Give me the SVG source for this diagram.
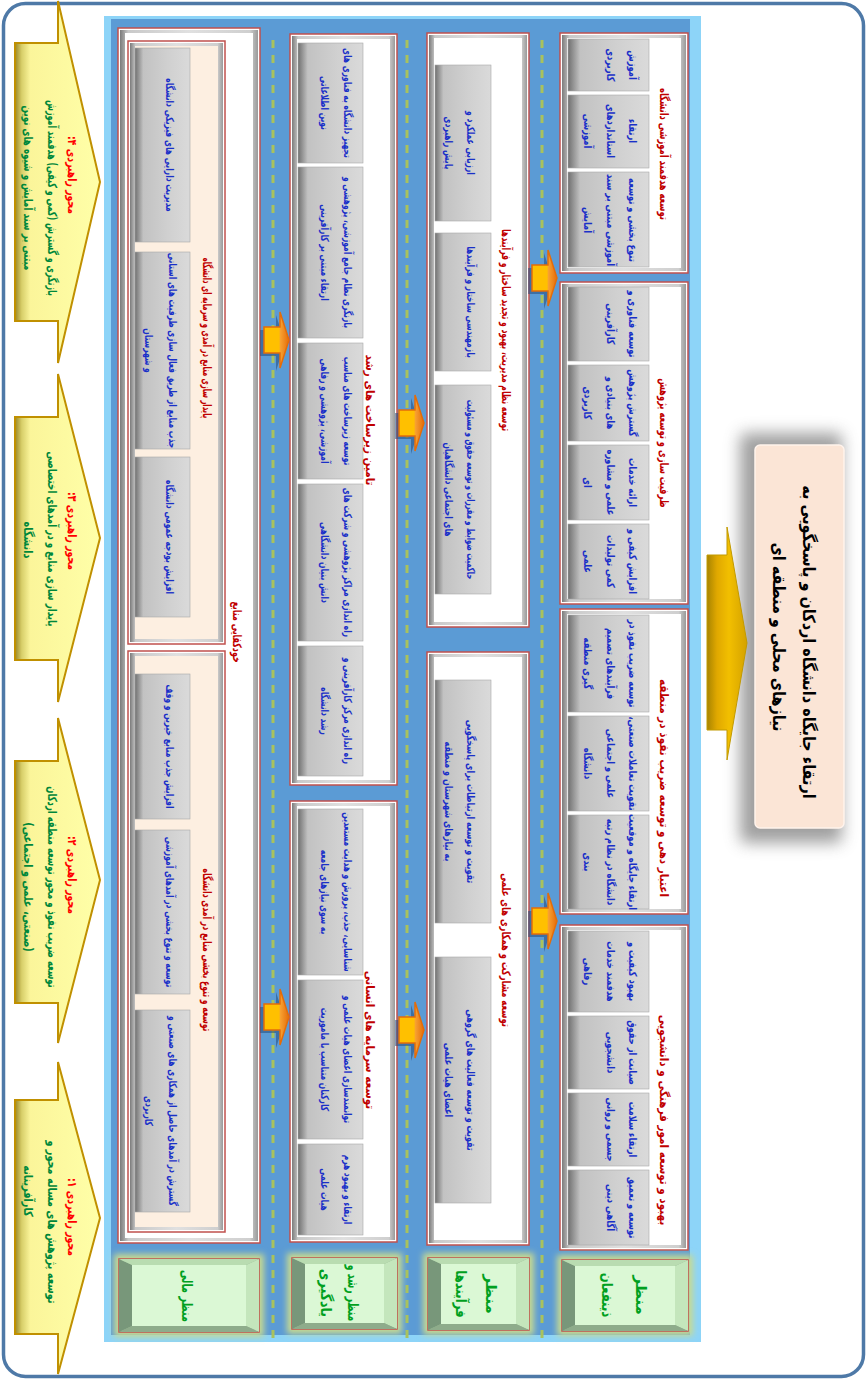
<svg xmlns="http://www.w3.org/2000/svg" width="868" height="1381" viewBox="0 0 868 1381">
<defs>
<style>
text{font-family:"DejaVu Sans",sans-serif;font-weight:bold;direction:rtl;text-anchor:middle}
.ti{font-size:17px;fill:#000}
.hd{font-size:12px;fill:#c00000}
.it{font-size:11px;fill:#1a30c8}
.lb{font-size:15px;fill:#00a020}
.ar{font-size:12.5px;fill:#ff0000}
.ag{font-size:12.5px;fill:#00873a}
.bx{fill:#fff;stroke:#c0504d;stroke-width:1.5}
.fr{fill:url(#frG)}
.wi{fill:#fff}
.pi{fill:#fdefe1}
.itm{fill:url(#itG);stroke:#a8a8a8;stroke-width:0.6}
.gl{fill:#c8da90;filter:url(#bl3)}
.lo{fill:#98b894;stroke:#c0504d;stroke-width:1.5}
.bl{fill:#78977a}.br{fill:#c4e6bc}.bt{fill:#b9dcb1}.bb{fill:#8eac8b}.lc{fill:#dbf8d5}
.ya{fill:url(#yaG);stroke:#c09000;stroke-width:2}
.dl{stroke:#a9c25d;stroke-width:3;stroke-dasharray:8 7}
</style>
<linearGradient id="itG" x1="0" y1="0" x2="1" y2="0"><stop offset="0" stop-color="#707070"/><stop offset="0.15" stop-color="#c2c2c2"/><stop offset="0.6" stop-color="#d0d0d0"/><stop offset="1" stop-color="#dadada"/></linearGradient>
<linearGradient id="frG" x1="0" y1="0" x2="1" y2="0"><stop offset="0" stop-color="#7b7b7b"/><stop offset="0.06" stop-color="#c9c9c9"/><stop offset="0.5" stop-color="#e0e0e0"/><stop offset="0.94" stop-color="#cfcfcf"/><stop offset="1" stop-color="#9a9a9a"/></linearGradient>
<linearGradient id="yaG" x1="0" y1="0" x2="1" y2="0"><stop offset="0" stop-color="#9a8626"/><stop offset="0.08" stop-color="#d8cf6a"/><stop offset="0.18" stop-color="#fbf59a"/><stop offset="1" stop-color="#ffffa8"/></linearGradient>
<linearGradient id="goG" x1="0" y1="0" x2="1" y2="0"><stop offset="0" stop-color="#a88400"/><stop offset="0.25" stop-color="#e0a800"/><stop offset="0.55" stop-color="#f2bf00"/><stop offset="1" stop-color="#d4a200"/></linearGradient>
<linearGradient id="oaG" x1="0" y1="0" x2="1" y2="0"><stop offset="0" stop-color="#ffc000"/><stop offset="0.6" stop-color="#ffc000"/><stop offset="0.66" stop-color="#f7a030"/><stop offset="1" stop-color="#e46c0a"/></linearGradient>
<filter id="bl3" x="-20%" y="-20%" width="140%" height="140%"><feGaussianBlur stdDeviation="3"/></filter>
<filter id="bl8" x="-40%" y="-10%" width="180%" height="120%"><feGaussianBlur stdDeviation="8"/></filter>
<g id="oa"><path d="M0,-13H16V-28L25,0L16,28V13H0Z" fill="#244a7c" opacity="0.55" transform="translate(-4,3)"/><path d="M0,-13H16V-28L25,0L16,28V13H0Z" fill="url(#oaG)" stroke="#e46c0a" stroke-width="1.5"/></g>
</defs>

<rect x="3.5" y="3.5" width="860" height="1373" rx="22" fill="#fff" stroke="#4e79a7" stroke-width="3.5"/>
<rect x="104" y="16" width="597" height="1326" fill="#8dd4f8"/>
<rect x="111" y="19" width="579" height="1316" fill="#5b9bd5"/>

<g id="title">
<rect x="740" y="433" width="102" height="410" rx="6" fill="#808080" opacity="0.75" filter="url(#bl8)"/>
<rect x="755" y="445" width="89" height="383" rx="5" fill="#fbe5d6" stroke="#fff3ec" stroke-width="1.5"/>
<text class="ti" transform="translate(803,642) rotate(90) scale(0.85,1)">ارتقاء جایگاه دانشگاه اردکان و پاسخگویی به</text>
<text class="ti" transform="translate(773,637) rotate(90) scale(0.85,1)">نیازهای محلی و منطقه ای</text>
</g>

<g id="boxA">
<rect class="bx" x="560" y="33" width="128" height="240"/>
<rect class="fr" x="562" y="35" width="124" height="236"/>
<rect class="wi" x="567" y="38" width="114" height="230"/>
<rect class="itm" x="568" y="39" width="81" height="52"/>
<rect class="itm" x="568" y="95" width="81" height="73"/>
<rect class="itm" x="568" y="172" width="81" height="95"/>
<text class="hd" transform="translate(660,154) rotate(90) scale(0.7,1)">توسعه هدفمند آموزشی دانشگاه</text>
<text class="it" transform="translate(629,65) rotate(90) scale(0.76,1)">آموزش</text>
<text class="it" transform="translate(607,65) rotate(90) scale(0.76,1)">کاربردی</text>
<text class="it" transform="translate(629,131) rotate(90) scale(0.76,1)">ارتقاء</text>
<text class="it" transform="translate(607,131) rotate(90) scale(0.76,1)">استانداردهای</text>
<text class="it" transform="translate(584,131) rotate(90) scale(0.76,1)">آموزشی</text>
<text class="it" transform="translate(629,220) rotate(90) scale(0.76,1)">تنوع بخشی و توسعه</text>
<text class="it" transform="translate(607,220) rotate(90) scale(0.76,1)">آموزشی مبتنی بر سند</text>
<text class="it" transform="translate(584,220) rotate(90) scale(0.76,1)">آمایش</text>
</g>

<g id="boxB">
<rect class="bx" x="560" y="282" width="128" height="322"/>
<rect class="fr" x="562" y="284" width="124" height="318"/>
<rect class="wi" x="567" y="287" width="114" height="312"/>
<rect class="itm" x="568" y="287" width="81" height="74"/>
<rect class="itm" x="568" y="365" width="81" height="76"/>
<rect class="itm" x="568" y="445" width="81" height="75"/>
<rect class="itm" x="568" y="524" width="81" height="75"/>
<text class="hd" transform="translate(660,443) rotate(90) scale(0.7,1)">ظرفیت سازی و توسعه پژوهش</text>
<text class="it" transform="translate(629,324) rotate(90) scale(0.76,1)">توسعه فناوری و</text>
<text class="it" transform="translate(607,324) rotate(90) scale(0.76,1)">کارآفرینی</text>
<text class="it" transform="translate(629,403) rotate(90) scale(0.76,1)">گسترش پژوهش</text>
<text class="it" transform="translate(607,403) rotate(90) scale(0.76,1)">های بنیادی و</text>
<text class="it" transform="translate(584,403) rotate(90) scale(0.76,1)">کاربردی</text>
<text class="it" transform="translate(629,482.5) rotate(90) scale(0.76,1)">ارائه خدمات</text>
<text class="it" transform="translate(607,482.5) rotate(90) scale(0.76,1)">علمی و مشاوره</text>
<text class="it" transform="translate(584,482.5) rotate(90) scale(0.76,1)">ای</text>
<text class="it" transform="translate(629,561.5) rotate(90) scale(0.76,1)">افزایش کیفی و</text>
<text class="it" transform="translate(607,561.5) rotate(90) scale(0.76,1)">کمی تولیدات</text>
<text class="it" transform="translate(584,561.5) rotate(90) scale(0.76,1)">علمی</text>
</g>

<g id="boxC">
<rect class="bx" x="560" y="609" width="128" height="305"/>
<rect class="fr" x="562" y="611" width="124" height="301"/>
<rect class="wi" x="567" y="614" width="114" height="295"/>
<rect class="itm" x="568" y="615" width="81" height="97"/>
<rect class="itm" x="568" y="716" width="81" height="95"/>
<rect class="itm" x="568" y="815" width="81" height="94"/>
<text class="hd" transform="translate(660,788) rotate(90) scale(0.87,1)">اعتبار دهی و توسعه ضریب نفوذ در منطقه</text>
<text class="it" transform="translate(629,663.5) rotate(90) scale(0.76,1)">توسعه ضریب نفوذ در</text>
<text class="it" transform="translate(607,663.5) rotate(90) scale(0.76,1)">فرآیندهای تصمیم</text>
<text class="it" transform="translate(584,663.5) rotate(90) scale(0.76,1)">گیری منطقه</text>
<text class="it" transform="translate(629,763.5) rotate(90) scale(0.76,1)">تقویت تعاملات صنعتی،</text>
<text class="it" transform="translate(607,763.5) rotate(90) scale(0.76,1)">علمی و اجتماعی</text>
<text class="it" transform="translate(584,763.5) rotate(90) scale(0.76,1)">دانشگاه</text>
<text class="it" transform="translate(629,862) rotate(90) scale(0.76,1)">ارتقاء جایگاه و موقعیت</text>
<text class="it" transform="translate(607,862) rotate(90) scale(0.76,1)">دانشگاه در نظام رتبه</text>
<text class="it" transform="translate(584,862) rotate(90) scale(0.76,1)">بندی</text>
</g>

<g id="boxD">
<rect class="bx" x="560" y="925" width="128" height="325"/>
<rect class="fr" x="562" y="927" width="124" height="321"/>
<rect class="wi" x="567" y="930" width="114" height="315"/>
<rect class="itm" x="568" y="931" width="81" height="81"/>
<rect class="itm" x="568" y="1016" width="81" height="73"/>
<rect class="itm" x="568" y="1093" width="81" height="73"/>
<rect class="itm" x="568" y="1170" width="81" height="75"/>
<text class="hd" transform="translate(660,1120) rotate(90) scale(0.87,1)">بهبود و توسعه امور فرهنگی و دانشجویی</text>
<text class="it" transform="translate(629,971.5) rotate(90) scale(0.76,1)">بهبود کیفیت و</text>
<text class="it" transform="translate(607,971.5) rotate(90) scale(0.76,1)">هدفمند خدمات</text>
<text class="it" transform="translate(584,971.5) rotate(90) scale(0.76,1)">رفاهی</text>
<text class="it" transform="translate(629,1052.5) rotate(90) scale(0.76,1)">صیانت از حقوق</text>
<text class="it" transform="translate(607,1052.5) rotate(90) scale(0.76,1)">دانشجویی</text>
<text class="it" transform="translate(629,1129.5) rotate(90) scale(0.76,1)">ارتقاء سلامت</text>
<text class="it" transform="translate(607,1129.5) rotate(90) scale(0.76,1)">جسمی و روانی</text>
<text class="it" transform="translate(629,1207.5) rotate(90) scale(0.76,1)">توسعه و تعمیق</text>
<text class="it" transform="translate(607,1207.5) rotate(90) scale(0.76,1)">آگاهی دینی</text>
</g>

<g id="boxE">
<rect class="bx" x="427" y="33" width="102" height="594"/>
<rect class="fr" x="429" y="35" width="98" height="590"/>
<rect class="wi" x="434" y="38" width="88" height="584"/>
<rect class="itm" x="435" y="65" width="56" height="156"/>
<rect class="itm" x="435" y="233" width="56" height="138"/>
<rect class="itm" x="435" y="385" width="56" height="209"/>
<text class="hd" transform="translate(502,330) rotate(90) scale(0.64,1)">توسعه نظام مدیریت، بهبود و تجدید ساختار و فرآیندها</text>
<text class="it" transform="translate(467,143) rotate(90) scale(0.69,1)">ارزیابی عملکرد و</text>
<text class="it" transform="translate(445,143) rotate(90) scale(0.69,1)">پایش راهبردی</text>
<text class="it" transform="translate(467,302) rotate(90) scale(0.69,1)">بازمهندسی ساختار و فرآیندها</text>
<text class="it" transform="translate(467,489.5) rotate(90) scale(0.62,1)">حاکمیت ضوابط و مقررات و توسعه حقوق و مسئولیت</text>
<text class="it" transform="translate(445,489.5) rotate(90) scale(0.69,1)">های اجتماعی دانشگاهیان</text>
</g>

<g id="boxF">
<rect class="bx" x="427" y="652" width="102" height="593"/>
<rect class="fr" x="429" y="654" width="98" height="589"/>
<rect class="wi" x="434" y="657" width="88" height="583"/>
<rect class="itm" x="435" y="680" width="56" height="243"/>
<rect class="itm" x="435" y="957" width="56" height="246"/>
<text class="hd" transform="translate(502,950) rotate(90) scale(0.7,1)">توسعه مشارکت و همکاری های علمی</text>
<text class="it" transform="translate(467,801.5) rotate(90) scale(0.73,1)">تقویت و توسعه ارتباطات برای پاسخگویی</text>
<text class="it" transform="translate(445,801.5) rotate(90) scale(0.73,1)">به نیازهای شهرستان و منطقه</text>
<text class="it" transform="translate(467,1080) rotate(90) scale(0.73,1)">تقویت و توسعه فعالیت های گروهی</text>
<text class="it" transform="translate(445,1080) rotate(90) scale(0.73,1)">اعضای هیات علمی</text>
</g>

<g id="boxG">
<rect class="bx" x="290" y="34" width="107" height="751"/>
<rect class="fr" x="292" y="36" width="103" height="747"/>
<rect class="wi" x="297" y="39" width="93" height="741"/>
<rect class="itm" x="298" y="43" width="65" height="120"/>
<rect class="itm" x="298" y="167" width="65" height="171"/>
<rect class="itm" x="298" y="343" width="65" height="136"/>
<rect class="itm" x="298" y="484" width="65" height="157"/>
<rect class="itm" x="298" y="646" width="65" height="130"/>
<text class="hd" transform="translate(366,420) rotate(90) scale(0.87,1)">تامین زیرساخت های رشد</text>
<text class="it" transform="translate(344,103) rotate(90) scale(0.69,1)">تجهیز دانشگاه به فناوری های</text>
<text class="it" transform="translate(321,103) rotate(90) scale(0.69,1)">نوین اطلاعاتی</text>
<text class="it" transform="translate(344,252.5) rotate(90) scale(0.69,1)">بازنگری نظام جامع آموزشی، پژوهشی و</text>
<text class="it" transform="translate(321,252.5) rotate(90) scale(0.69,1)">ارتقاء مبتنی بر کارآفرینی</text>
<text class="it" transform="translate(344,411) rotate(90) scale(0.69,1)">توسعه زیرساخت های مناسب</text>
<text class="it" transform="translate(321,411) rotate(90) scale(0.69,1)">آموزشی، پژوهشی و رفاهی</text>
<text class="it" transform="translate(344,562.5) rotate(90) scale(0.69,1)">راه اندازی مراکز پژوهشی و شرکت های</text>
<text class="it" transform="translate(321,562.5) rotate(90) scale(0.69,1)">دانش بنیان دانشگاهی</text>
<text class="it" transform="translate(344,711) rotate(90) scale(0.69,1)">راه اندازی مرکز کارآفرینی و</text>
<text class="it" transform="translate(321,711) rotate(90) scale(0.69,1)">رشد دانشگاه</text>
</g>

<g id="boxH">
<rect class="bx" x="290" y="801" width="107" height="441"/>
<rect class="fr" x="292" y="803" width="103" height="437"/>
<rect class="wi" x="297" y="806" width="93" height="431"/>
<rect class="itm" x="298" y="809" width="65" height="166"/>
<rect class="itm" x="298" y="980" width="65" height="159"/>
<rect class="itm" x="298" y="1144" width="65" height="91"/>
<text class="hd" transform="translate(366,1040) rotate(90) scale(0.87,1)">توسعه سرمایه های انسانی</text>
<text class="it" transform="translate(344,892) rotate(90) scale(0.69,1)">شناسایی، جذب، پرورش و هدایت مستعدین</text>
<text class="it" transform="translate(321,892) rotate(90) scale(0.69,1)">به سوی نیازهای جامعه</text>
<text class="it" transform="translate(344,1059.5) rotate(90) scale(0.69,1)">توانمندسازی اعضای هیات علمی و</text>
<text class="it" transform="translate(321,1059.5) rotate(90) scale(0.69,1)">کارکنان متناسب با ماموریت</text>
<text class="it" transform="translate(344,1189.5) rotate(90) scale(0.69,1)">ارتقاء و بهبود هرم</text>
<text class="it" transform="translate(321,1189.5) rotate(90) scale(0.69,1)">هیات علمی</text>
</g>

<g id="boxFinance">
<rect class="bx" x="118" y="28" width="142" height="1215"/>
<rect class="fr" x="120" y="30" width="138" height="1211"/>
<rect class="wi" x="125" y="33" width="128" height="1205"/>
<text class="hd" transform="translate(233,632) rotate(90) scale(0.66,1)">خودکفایی منابع</text>
</g>

<g id="boxS1">
<rect class="bx" x="128" y="41" width="97" height="603"/>
<rect class="fr" x="130" y="43" width="93" height="599"/>
<rect class="pi" x="135" y="46" width="83" height="593"/>
<rect class="itm" x="135" y="48" width="55" height="194"/>
<rect class="itm" x="135" y="252" width="55" height="197"/>
<rect class="itm" x="135" y="457" width="55" height="160"/>
<text class="hd" transform="translate(203,338) rotate(90) scale(0.57,1)">پایدار سازی منابع در آمدی و سرمایه ای دانشگاه</text>
<text class="it" transform="translate(166,145) rotate(90) scale(0.69,1)">مدیریت دارایی های فیزیکی دانشگاه</text>
<text class="it" transform="translate(169,350.5) rotate(90) scale(0.69,1)">جذب منابع از طریق فعال سازی ظرفیت های استانی</text>
<text class="it" transform="translate(145,350.5) rotate(90) scale(0.69,1)">و شهرستان</text>
<text class="it" transform="translate(166,537) rotate(90) scale(0.69,1)">افزایش بودجه عمومی دانشگاه</text>
</g>

<g id="boxS2">
<rect class="bx" x="128" y="651" width="97" height="581"/>
<rect class="fr" x="130" y="653" width="93" height="577"/>
<rect class="pi" x="135" y="656" width="83" height="571"/>
<rect class="itm" x="135" y="674" width="55" height="145"/>
<rect class="itm" x="135" y="830" width="55" height="164"/>
<rect class="itm" x="135" y="1010" width="55" height="202"/>
<text class="hd" transform="translate(203,950) rotate(90) scale(0.64,1)">توسعه و تنوع بخشی منابع در آمدی دانشگاه</text>
<text class="it" transform="translate(166,746.5) rotate(90) scale(0.69,1)">افزایش جذب منابع خیرین و وقف</text>
<text class="it" transform="translate(166,912) rotate(90) scale(0.69,1)">توسعه و تنوع بخشی در آمدهای آموزشی</text>
<text class="it" transform="translate(169,1111) rotate(90) scale(0.69,1)">گسترش در آمدهای حاصل از همکاری های صنعتی و</text>
<text class="it" transform="translate(145,1111) rotate(90) scale(0.69,1)">کاربردی</text>
</g>

<g id="label1">
<rect class="gl" x="557" y="1255" width="136" height="81"/>
<rect class="lo" x="562" y="1260" width="126" height="71"/>
<polygon class="bl" points="562,1260 575,1266 575,1325 562,1331"/>
<polygon class="br" points="688,1260 675,1266 675,1325 688,1331"/>
<polygon class="bt" points="562,1260 688,1260 675,1266 575,1266"/>
<polygon class="bb" points="562,1331 688,1331 675,1325 575,1325"/>
<rect class="lc" x="575" y="1266" width="100" height="59"/>
<text class="lb" transform="translate(635.5,1295) rotate(90)">منظر</text>
<text class="lb" transform="translate(601.5,1295) rotate(90) scale(0.78,1)">ذینفعان</text>
</g>

<g id="label2">
<rect class="gl" x="423" y="1253" width="111" height="82"/>
<rect class="lo" x="428" y="1258" width="101" height="72"/>
<polygon class="bl" points="428,1258 441,1264 441,1324 428,1330"/>
<polygon class="br" points="529,1258 516,1264 516,1324 529,1330"/>
<polygon class="bt" points="428,1258 529,1258 516,1264 441,1264"/>
<polygon class="bb" points="428,1330 529,1330 516,1324 441,1324"/>
<rect class="lc" x="441" y="1264" width="75" height="60"/>
<text class="lb" transform="translate(485.5,1294) rotate(90)">منظر</text>
<text class="lb" transform="translate(455.5,1294) rotate(90) scale(0.78,1)">فرآیندها</text>
</g>

<g id="label3">
<rect class="gl" x="287" y="1253" width="115" height="81"/>
<rect class="lo" x="292" y="1258" width="105" height="71"/>
<polygon class="bl" points="292,1258 305,1264 305,1323 292,1329"/>
<polygon class="br" points="397,1258 384,1264 384,1323 397,1329"/>
<polygon class="bt" points="292,1258 397,1258 384,1264 305,1264"/>
<polygon class="bb" points="292,1329 397,1329 384,1323 305,1323"/>
<rect class="lc" x="305" y="1264" width="79" height="59"/>
<text class="lb" transform="translate(347.5,1293) rotate(90) scale(0.62,1)">منظر رشد و</text>
<text class="lb" transform="translate(320.5,1293) rotate(90) scale(0.85,1)">یادگیری</text>
</g>

<g id="label4">
<rect class="gl" x="114" y="1254" width="150" height="83"/>
<rect class="lo" x="119" y="1259" width="140" height="73"/>
<polygon class="bl" points="119,1259 132,1265 132,1326 119,1332"/>
<polygon class="br" points="259,1259 246,1265 246,1326 259,1332"/>
<polygon class="bt" points="119,1259 259,1259 246,1265 132,1265"/>
<polygon class="bb" points="119,1332 259,1332 246,1326 132,1326"/>
<rect class="lc" x="132" y="1265" width="114" height="61"/>
<text class="lb" transform="translate(181.5,1296) rotate(90) scale(0.65,1)">منظر مالی</text>
</g>

<g id="axis4">
<path class="ya" d="M15,43H58V1L100,182L58,363V321H15Z"/>
<text class="ar" transform="translate(68,175) rotate(90) scale(0.75,1)">محور راهبردی ۴:</text>
<text class="ag" transform="translate(48,198) rotate(90) scale(0.64,1)">بازنگری و گسترش (کمی و کیفی) هدفمند آموزش</text>
<text class="ag" transform="translate(24,188) rotate(90) scale(0.7,1)">مبتنی بر سند آمایش و شیوه های نوین</text>
</g>
<g id="axis3">
<path class="ya" d="M15,417H58V374L100,538L58,702V660H15Z"/>
<text class="ar" transform="translate(68,531) rotate(90) scale(0.75,1)">محور راهبردی ۳:</text>
<text class="ag" transform="translate(48,539) rotate(90) scale(0.7,1)">پایدار سازی منابع و در آمدهای اختصاصی</text>
<text class="ag" transform="translate(24,540) rotate(90) scale(0.78,1)">دانشگاه</text>
</g>
<g id="axis2">
<path class="ya" d="M15,761H58V718L100,880L58,1043V1003H15Z"/>
<text class="ar" transform="translate(68,875) rotate(90) scale(0.75,1)">محور راهبردی ۲:</text>
<text class="ag" transform="translate(48,887) rotate(90) scale(0.68,1)">توسعه ضریب نفوذ و محور توسعه منطقه اردکان</text>
<text class="ag" transform="translate(24,887) rotate(90) scale(0.78,1)">(صنعتی، علمی و اجتماعی)</text>
</g>
<g id="axis1">
<path class="ya" d="M15,1100H58V1062L100,1218L58,1374V1334H15Z"/>
<text class="ar" transform="translate(68,1217) rotate(90) scale(0.75,1)">محور راهبردی ۱:</text>
<text class="ag" transform="translate(48,1222) rotate(90) scale(0.78,1)">توسعه پژوهش های مساله محور و</text>
<text class="ag" transform="translate(24,1191) rotate(90) scale(0.78,1)">کارآفرینانه</text>
</g>

<g id="connectors">
<line class="dl" x1="542" y1="40" x2="542" y2="1338"/>
<line class="dl" x1="407" y1="40" x2="407" y2="1338"/>
<line class="dl" x1="273" y1="40" x2="273" y2="1338"/>
<use href="#oa" transform="translate(532,278)"/>
<use href="#oa" transform="translate(532,921)"/>
<use href="#oa" transform="translate(399,423)"/>
<use href="#oa" transform="translate(399,1030)"/>
<use href="#oa" transform="translate(264,340)"/>
<use href="#oa" transform="translate(264,1017)"/>
<path d="M707,555H727V527L747,643L727,760V730H707Z" fill="url(#goG)" stroke="#c29a00" stroke-width="1"/>
</g>
</svg>
